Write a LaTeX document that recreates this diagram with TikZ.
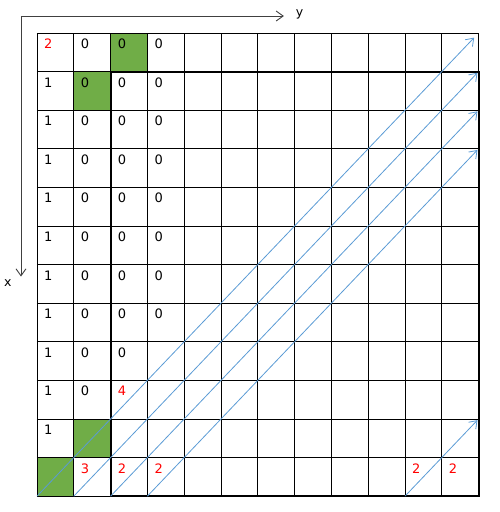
\documentclass[tikz,border=0pt]{standalone}
\usepackage{xcolor}
\usepackage{fontspec}
\setmainfont{DejaVu Sans}
\usepackage{tikz}
\usetikzlibrary{arrows.meta}
\definecolor{cellgreen}{HTML}{70AD47}
\definecolor{diagblue}{HTML}{5B9BD5}
\definecolor{axisgray}{HTML}{404040}
\tikzstyle{num} = [anchor=base west, inner sep=0pt, font=\fontsize{13}{15}\selectfont]
\tikzstyle{rednum} = [num, text=red]
\tikzstyle{axislabel} = [anchor=base west, inner sep=0pt, font=\fontsize{12.5}{15}\selectfont]
\tikzstyle{filled} = [fill=cellgreen]
\tikzstyle{gridline} = [draw=black, line width=0.8pt]
\tikzstyle{border} = [draw=black, line width=2pt]
\tikzstyle{axis} = [draw=axisgray, line width=0.9pt, -{Straight Barb[length=7pt,width=10pt]}]
\tikzstyle{diag} = [draw=diagblue, line width=0.8pt, -{Straight Barb[length=7pt,width=10pt]}]

\begin{document}
\begin{tikzpicture}[x=36.8pt, y=-38.6pt]
    \useasboundingbox (-1.005,-0.855) rectangle (12.58,12.41);

    % Green cells
    \fill[filled] (2,0) rectangle (3,1);
    \fill[filled] (1,1) rectangle (2,2);
    \fill[filled] (1,10) rectangle (2,11);
    \fill[filled] (0,11) rectangle (1,12);

    % Grid
    \foreach \i in {0,...,12} {
        \draw[gridline] (\i,0) -- (\i,12);
        \draw[gridline] (0,\i) -- (12,\i);
    }
    \draw[border] (2,1) rectangle (12,12);

    % Axes
    \coordinate (origin) at (-0.435,-0.44);
    \coordinate (yend) at (6.71,-0.44);
    \coordinate (xend) at (-0.435,6.31);
    \draw[axis] (origin) -- (yend);
    \draw[axis] (origin) -- (xend);
    \node (ylabel) [axislabel] at (7.03,-0.42) {y};
    \node (xlabel) [axislabel] at (-0.897,6.57) {x};

    % Nodes
    \node (n00) [rednum] at (0.19,0.40) {2};
    \foreach \c in {1,2,3}
        \node (n0\c) [num] at (\c+0.19,0.40) {0};
    \foreach \r in {1,...,9} {
        \node (n\r0) [num] at (0.19,\r+0.40) {1};
        \node (n\r1) [num] at (1.19,\r+0.40) {0};
    }
    \foreach \r in {1,...,8}
        \node (n\r2) [num] at (2.19,\r+0.40) {0};
    \foreach \r in {1,...,7}
        \node (n\r3) [num] at (3.19,\r+0.40) {0};
    \node (n92) [rednum] at (2.19,9.40) {4};
    \node (n100) [num] at (0.19,10.40) {1};
    \node (n111) [rednum] at (1.19,11.40) {3};
    \node (n112) [rednum] at (2.19,11.40) {2};
    \node (n113) [rednum] at (3.19,11.40) {2};
    \node (n1110) [rednum] at (10.19,11.40) {2};
    \node (n1111) [rednum] at (11.19,11.40) {2};

    % Diagonals
    \coordinate (d1s) at (0,12);  \coordinate (d1e) at (11.88,0.12);
    \coordinate (d2s) at (1,12);  \coordinate (d2e) at (11.97,1.03);
    \coordinate (d3s) at (2,12);  \coordinate (d3e) at (11.97,2.03);
    \coordinate (d4s) at (3,12);  \coordinate (d4e) at (11.97,3.03);
    \coordinate (d5s) at (10,12); \coordinate (d5e) at (11.97,10.03);

    % Arrows
    \draw[diag] (d1s) -- (d1e);
    \draw[diag] (d2s) -- (d2e);
    \draw[diag] (d3s) -- (d3e);
    \draw[diag] (d4s) -- (d4e);
    \draw[diag] (d5s) -- (d5e);

\end{tikzpicture}
\end{document}
